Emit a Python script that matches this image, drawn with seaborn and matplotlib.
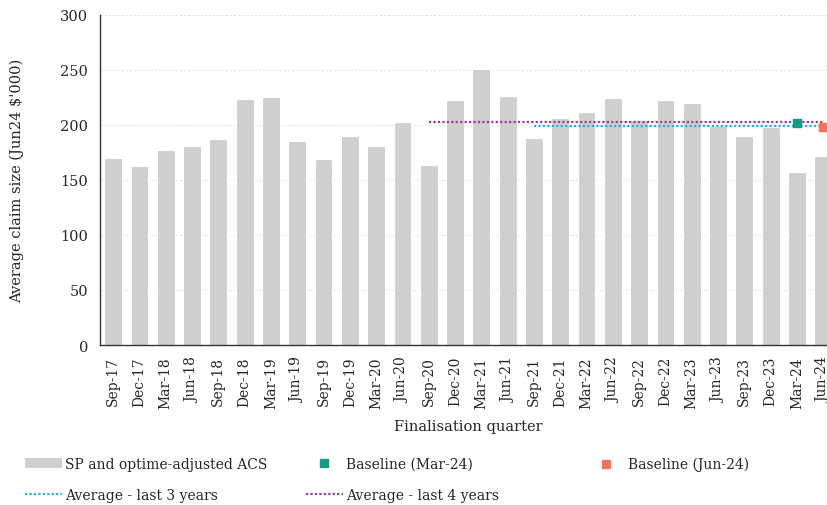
import numpy as np
import seaborn as sns
import matplotlib.pyplot as plt
from matplotlib.lines import Line2D
from matplotlib.patches import Patch
from matplotlib import ticker

quarters = ['Sep-17', 'Dec-17', 'Mar-18', 'Jun-18', 'Sep-18', 'Dec-18', 'Mar-19',
            'Jun-19', 'Sep-19', 'Dec-19', 'Mar-20', 'Jun-20', 'Sep-20', 'Dec-20',
            'Mar-21', 'Jun-21', 'Sep-21', 'Dec-21', 'Mar-22', 'Jun-22', 'Sep-22',
            'Dec-22', 'Mar-23', 'Jun-23', 'Sep-23', 'Dec-23', 'Mar-24', 'Jun-24']
acs = [170, 163, 177, 181, 187, 224, 225.5, 185.5, 169.5, 190, 180.5, 202.5, 163.5, 222.5,
       251, 226, 188, 206.5, 211.5, 224.5, 204.5, 222.5, 220, 199.5, 190, 198.5, 157, 171.5]

avg3_value = 199.0
avg3_start = 'Sep-21'
avg4_value = 202.6
avg4_start = 'Sep-20'
baseline_mar = 201.4
baseline_jun = 198.6

bar_col = '#d0cece'
teal = '#0e9f89'
coral = '#f4715a'
cyan = '#1fb2d6'
purple = '#983b9c'

sns.set_style('white')
plt.rcParams['font.family'] = ['DejaVu Serif']
plt.rcParams['font.size'] = 10

fig = plt.figure(figsize=(8.27, 5.06), dpi=100)
ax = fig.add_axes([100 / 827, 160 / 506, 28 * 26.3 / 827, 330 / 506])

sns.barplot(x=quarters, y=acs, color=bar_col, saturation=1, width=0.68,
            edgecolor='white', linewidth=0.8, ax=ax, zorder=2)

idx = np.arange(len(quarters))
end = len(quarters) - 1
s3 = quarters.index(avg3_start)
s4 = quarters.index(avg4_start)
# average lines over the last 4 / 3 years
ax.plot([s4, end], [avg4_value, avg4_value], color=purple, lw=1.6,
        linestyle=(0, (1, 1)), zorder=3)
ax.plot([s3, end], [avg3_value, avg3_value], color=cyan, lw=1.6,
        linestyle=(0, (1, 1)), zorder=3)
ax.plot([quarters.index('Mar-24')], [baseline_mar], marker='s', ms=6, color=teal,
        linestyle='none', zorder=4, clip_on=False)
ax.plot([quarters.index('Jun-24')], [baseline_jun], marker='s', ms=6, color=coral,
        linestyle='none', zorder=4, clip_on=False)

ax.set_xlim(-0.5, len(quarters) - 0.5)
ax.set_ylim(0, 300)
ax.yaxis.set_major_locator(ticker.MultipleLocator(50))
ax.grid(axis='y', color='#dddddd', linestyle=(0, (3, 2)), lw=0.6, zorder=0)
ax.set_axisbelow(True)

ax.set_xticks(idx)
ax.set_xticklabels(quarters, rotation=90, fontsize=10)
ax.set_xticks(np.arange(-0.5, len(quarters), 1), minor=True)
ax.tick_params(axis='x', which='major', length=0, pad=8)
ax.tick_params(axis='x', which='minor', length=5, width=1, color='#333333', direction='out')
ax.tick_params(axis='y', length=5, width=1, color='#333333', direction='out', labelsize=10.5)

for side in ['top', 'right']:
    ax.spines[side].set_visible(False)
for side in ['left', 'bottom']:
    ax.spines[side].set_color('#333333')
    ax.spines[side].set_linewidth(1)

ax.set_xlabel('Finalisation quarter', fontsize=10.5, labelpad=8)
ax.set_ylabel("Average claim size (Jun24 $'000)", fontsize=10.5, labelpad=26)

leg_kw = dict(loc='upper left', frameon=False, fontsize=10, borderpad=0, borderaxespad=0,
              handlelength=2.65, handletextpad=0.25, labelspacing=1.2, handleheight=0.65)
col1 = [Patch(facecolor=bar_col, edgecolor='none'),
        Line2D([], [], color=cyan, lw=1.6, linestyle=(0, (1, 1)))]
col2 = [Line2D([], [], color=teal, marker='s', ms=6, linestyle='none'),
        Line2D([], [], color=purple, lw=1.6, linestyle=(0, (1, 1)))]
col3 = [Line2D([], [], color=coral, marker='s', ms=6, linestyle='none')]
top = 1 - 458 / 506
fig.legend(col1, ['SP and optime-adjusted ACS', 'Average - last 3 years'],
           bbox_to_anchor=(25 / 827, top), **leg_kw)
fig.legend(col2, ['Baseline (Mar-24)', 'Average - last 4 years'],
           bbox_to_anchor=(306 / 827, top), **leg_kw)
fig.legend(col3, ['Baseline (Jun-24)'],
           bbox_to_anchor=(588 / 827, top), **leg_kw)

fig.savefig('out.png', dpi=100)
